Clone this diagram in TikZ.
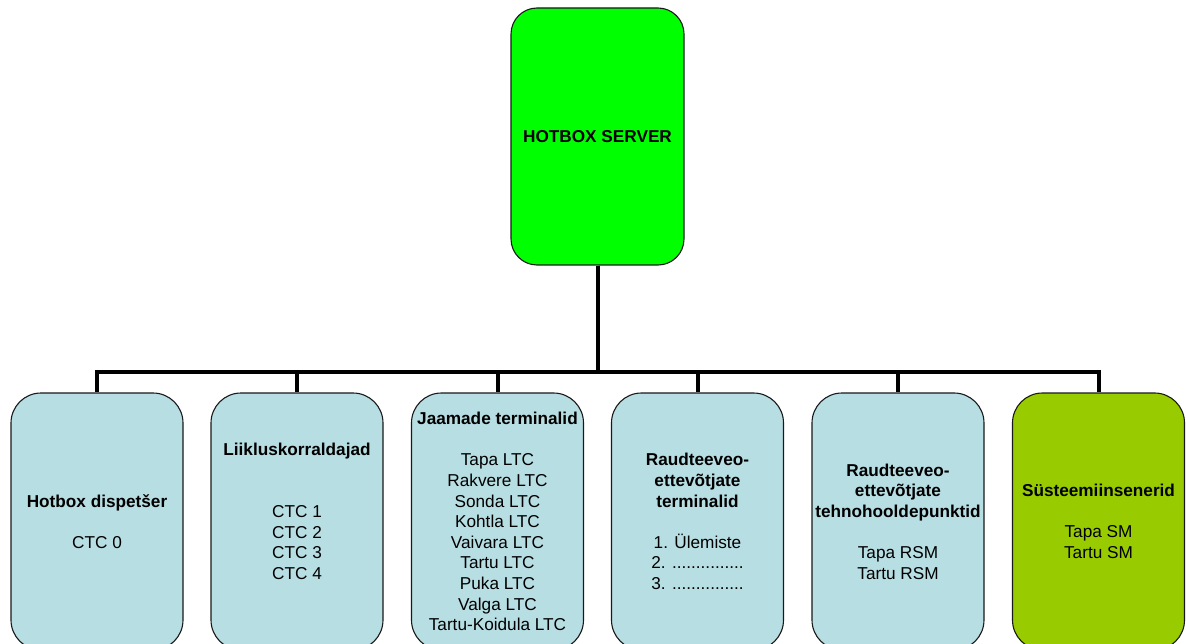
\documentclass[tikz,border=0pt]{standalone}
\usepackage{fontspec}
\setmainfont{Liberation Sans}
\definecolor{servergreen}{HTML}{00FF00}
\definecolor{termblue}{HTML}{B7DEE3}
\definecolor{syslime}{HTML}{99CC00}
\tikzset{
    orgbox/.style={draw=black!90,line width=1.1pt,rounded corners=30pt,fill=termblue,
        minimum width=172pt,minimum height=257pt,inner sep=1pt,align=center,
        font=\fontsize{17.2}{20.6}\selectfont},
    serverbox/.style={orgbox,fill=servergreen,minimum width=173pt,rounded corners=26pt},
    bus/.style={line width=4pt,black}
}
\begin{document}
\begin{tikzpicture}[x=1pt,y=-1pt]
    \useasboundingbox (0,0) rectangle (1186,644);
    \clip (0,0) rectangle (1186,644);

    % server
    \node[serverbox] (server) at (597.5,136.5) {\textbf{HOTBOX SERVER}};

    % terminals
    \node[orgbox] (disp) at (97,521.5)
        {\textbf{Hotbox dispetšer}\\ \mbox{}\\ CTC 0};
    \node[orgbox] (liik) at (297,521.5)
        {\textbf{Liikluskorraldajad}\\ \mbox{}\\ \mbox{}\\ CTC 1\\ CTC 2\\ CTC 3\\ CTC 4\\ \mbox{}};
    \node[orgbox] (jaam) at (497.5,521.5)
        {\textbf{Jaamade terminalid}\\ \mbox{}\\ Tapa LTC\\ Rakvere LTC\\ Sonda LTC\\ Kohtla LTC\\
         Vaivara LTC\\ Tartu LTC\\ Puka LTC\\ Valga LTC\\ Tartu-Koidula LTC};
    \node[orgbox] (rterm) at (697.5,521.5)
        {\textbf{Raudteeveo-}\\ \textbf{ettevõtjate}\\ \textbf{terminalid}\\ \mbox{}\\
         1. Ülemiste\\ 2. ...............\\ 3. ...............};
    \node[orgbox] (rtehno) at (898,521.5)
        {\textbf{Raudteeveo-}\\ \textbf{ettevõtjate}\\ \textbf{tehnohooldepunktid}\\ \mbox{}\\
         Tapa RSM\\ Tartu RSM};
    \node[orgbox,fill=syslime] (sys) at (1098.5,521.5)
        {\textbf{Süsteemiinsenerid}\\ \mbox{}\\ Tapa SM\\ Tartu SM};

    % bus lines
    \foreach \t in {disp,liik,jaam,rterm,rtehno,sys}
        \draw[bus] (server.south) -- ++(0,106) -| (\t.north);
\end{tikzpicture}
\end{document}
